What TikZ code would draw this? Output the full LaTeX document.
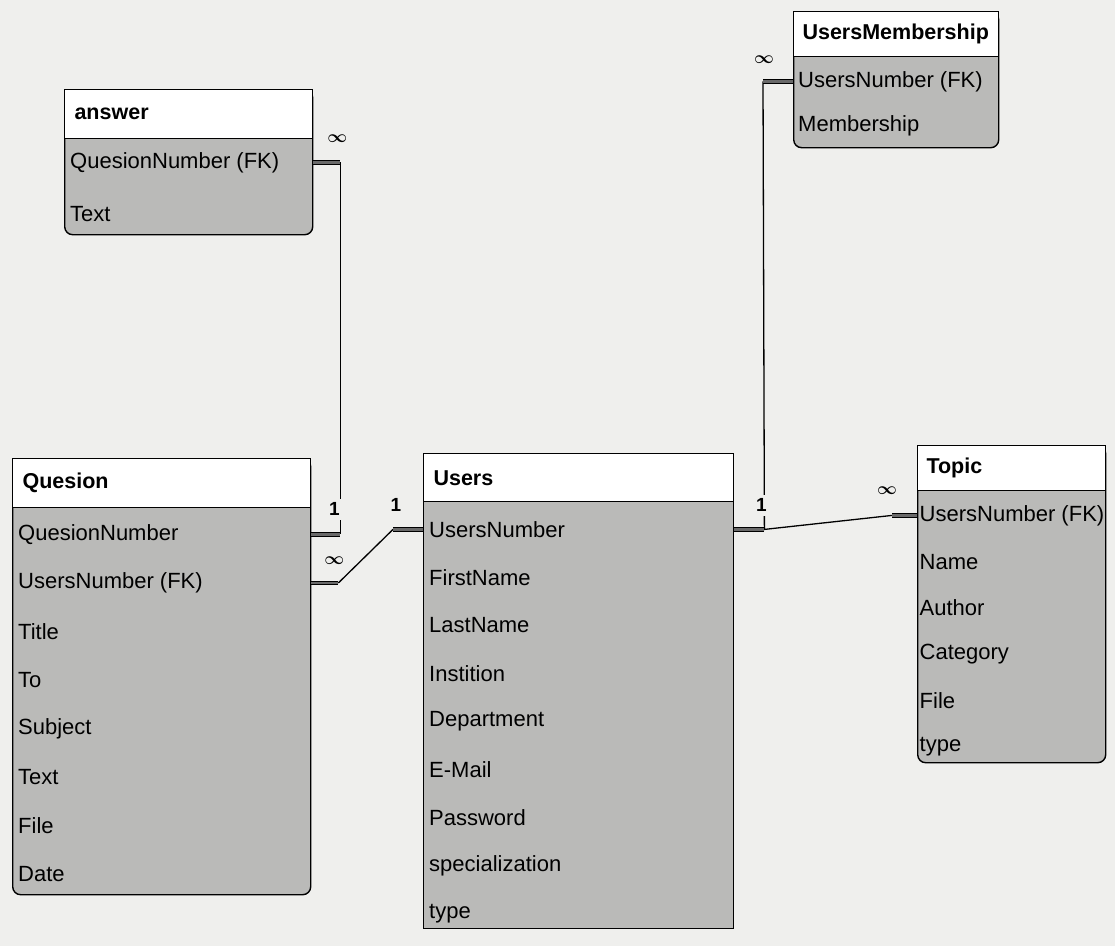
\documentclass[tikz,border=0pt]{standalone}
\usepackage{fontspec}
\setmainfont{Liberation Sans}
\usetikzlibrary{calc}
\definecolor{paper}{RGB}{239,239,237}
\definecolor{bodygray}{RGB}{186,186,184}
\definecolor{stubgray}{RGB}{105,105,105}
\begin{document}
\begin{tikzpicture}[x=1pt, y=-1pt,
    tbody/.style={draw, line width=1.4pt, fill=bodygray, rounded corners=8pt, anchor=north west, inner sep=0pt},
    thead/.style={draw, line width=1.4pt, fill=white, anchor=north west, inner sep=0pt},
    title/.style={anchor=west, font=\fontsize{21.5}{25}\selectfont\bfseries},
    field/.style={anchor=west, font=\fontsize{22}{25}\selectfont, inner sep=1pt},
    stub/.style={draw=black, line width=0.9pt, double=stubgray, double distance=2.4pt},
    link/.style={line width=1.3pt},
    card/.style={font=\fontsize{19}{19}\selectfont\bfseries, fill=paper, inner xsep=1pt, inner ysep=4pt},
    many/.style={font=\fontsize{16}{16}\selectfont\boldmath, inner sep=0pt}]
    % page
    \fill[paper] (0,0) rectangle (1115,946);
    % answer
    \node[tbody, minimum width=248pt, minimum height=145pt] (answer) at (64,89) {};
    \node[thead, minimum width=248pt, minimum height=49pt] (answer-h) at (64,89) {};
    \node[title] (answer-t) at ($(answer-h.west)+(7,0)$) {answer};
    \foreach \t [count=\i] in {QuesionNumber (FK), Text}
        \node[field] (a-\i) at ($(answer-h.south west)+(5,{23+(\i-1)*52})$) {\t};
    % UsersMembership
    \node[tbody, minimum width=205pt, minimum height=136pt] (member) at (793,11) {};
    \node[thead, minimum width=205pt, minimum height=45pt] (member-h) at (793,11) {};
    \node[title] (member-t) at ($(member-h.west)+(6,0)$) {UsersMembership};
    \foreach \t [count=\i] in {UsersNumber (FK), Membership}
        \node[field] (m-\i) at ($(member-h.south west)+(4,{24+(\i-1)*44})$) {\t};
    % Quesion
    \node[tbody, minimum width=298pt, minimum height=436pt] (ques) at (12,458) {};
    \node[thead, minimum width=298pt, minimum height=49pt] (ques-h) at (12,458) {};
    \node[title] (ques-t) at ($(ques-h.west)+(7,0)$) {Quesion};
    \foreach \t [count=\i] in {QuesionNumber, UsersNumber (FK), Title, To, Subject, Text, File, Date}
        \node[field] (q-\i) at ($(ques-h.south west)+(5,{26+(\i-1)*48.5})$) {\t};
    % Users
    \node[tbody, sharp corners, minimum width=310pt, minimum height=475pt] (users) at (423,453) {};
    \node[thead, minimum width=310pt, minimum height=48pt] (users-h) at (423,453) {};
    \node[title] (users-t) at ($(users-h.west)+(7,0)$) {Users};
    \foreach \t [count=\i] in {UsersNumber, FirstName, LastName, Instition, Department, E-Mail, Password, specialization, type}
        \node[field] (u-\i) at ($(users-h.south west)+(5,{27+(\i-1)*48})$) {\t};
    % Topic
    \node[tbody, minimum width=188pt, minimum height=317pt] (topic) at (917,445) {};
    \node[thead, minimum width=188pt, minimum height=45pt] (topic-h) at (917,445) {};
    \node[title] (topic-t) at ($(topic-h.west)+(6,0)$) {Topic};
    \foreach \t [count=\i] in {UsersNumber (FK), Name, Author, Category, File, type}
        \node[field] (t-\i) at ($(topic-h.south west)+(1.5,{24+(\i-1)*46.2})$) {\t};
    % connector ends
    \coordinate (ca) at ($(answer.east |- a-1)+(27,0)$);
    \coordinate (cq) at (ca |- q-1);
    \coordinate (cq2) at ($(ques.east |- q-2)+(27,0)$);
    \coordinate (cu1) at ($(users.west |- u-1)+(-30,0)$);
    \coordinate (cu2) at ($(users.east |- u-1)+(30,0)$);
    \coordinate (cm) at ($(member.west |- m-1)+(-30,0)$);
    \coordinate (ct) at ($(topic.west |- t-1)+(-25,0)$);
    % links
    \draw[link] (ca) -- (cq);
    \draw[link] (cq2) -- (cu1);
    \draw[link] (cm) -- (cu2) -- (ct);
    % stubs
    \draw[stub] (answer.east |- a-1) -- (ca);
    \draw[stub] (ques.east |- q-1) -- (cq);
    \draw[stub] (ques.east |- q-2) -- (cq2);
    \draw[stub] (users.west |- u-1) -- (cu1);
    \draw[stub] (users.east |- u-1) -- (cu2);
    \draw[stub] (member.west |- m-1) -- (cm);
    \draw[stub] (topic.west |- t-1) -- (ct);
    % cardinalities
    \node[many] (n-a) at ($(ca)+(-3,-24)$) {$\infty$};
    \node[card] (o-q) at ($(cq)+(-6,-25)$) {1};
    \node[many] (n-q) at ($(cq2)+(-4,-22)$) {$\infty$};
    \node[card, fill=none] (o-u1) at ($(cu1)+(3,-24)$) {1};
    \node[card] (o-u2) at ($(cu2)+(-3,-24)$) {1};
    \node[many] (n-m) at ($(cm)+(1,-22)$) {$\infty$};
    \node[many] (n-t) at ($(ct)+(-5,-25)$) {$\infty$};
\end{tikzpicture}
\end{document}
